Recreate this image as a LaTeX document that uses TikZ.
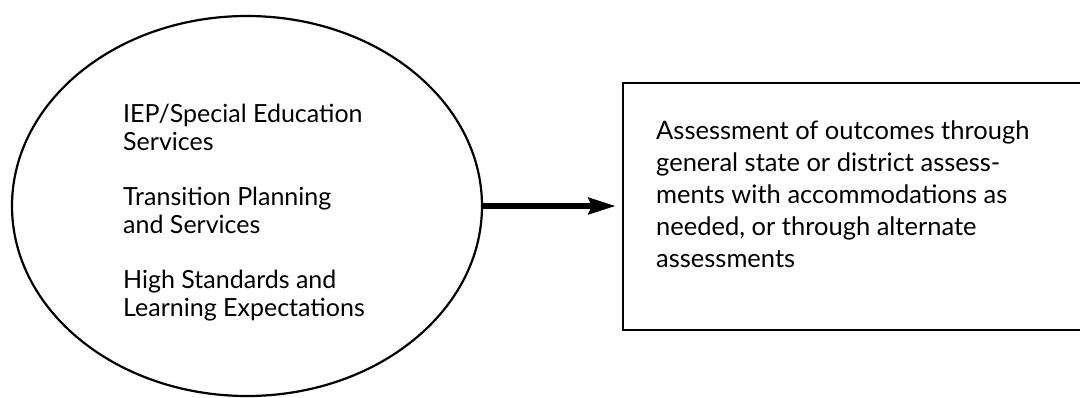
\documentclass[tikz,border=0pt]{standalone}
\usepackage{fontspec}
\setmainfont{Lato}
\usetikzlibrary{shapes.geometric,arrows.meta}
\begin{document}
\begin{tikzpicture}[x=1pt,y=-1pt,
  outline/.style={draw=black,line width=2.2pt},
  bodytext/.style={align=left,inner sep=0pt},
  flowarrow/.style={line width=6pt,shorten >=6pt,-{Stealth[length=27pt,width=16pt,inset=3pt]}}]
  \useasboundingbox (0,0) rectangle (1080,397);
  \clip (0,0) rectangle (1080,397);
  % left: the services ellipse
  \node[outline,ellipse,minimum width=470pt,minimum height=380pt,inner sep=0pt] (ell) at (247,206) {};
  \node[bodytext,font=\fontsize{25}{28}\selectfont,anchor=north west] (services) at (123,104)
    {IEP/Special Education\\Services\\[27pt]Transition Planning\\and Services\\[27pt]High Standards and\\Learning Expectations};
  % right: the outcome box, running past the right margin
  \node[outline,rectangle,minimum width=477pt,minimum height=247pt,inner sep=0pt] (box) at (861.5,206.5) {};
  \node[bodytext,font=\fontsize{25.5}{32}\selectfont,anchor=north west] (outcome) at (656,121)
    {Assessment of outcomes through\\general state or district assess-\\ments with accommodations as\\needed, or through alternate\\assessments};
  % connector
  \draw[flowarrow] (ell.east) -- (ell.east -| box.west);
\end{tikzpicture}
\end{document}
